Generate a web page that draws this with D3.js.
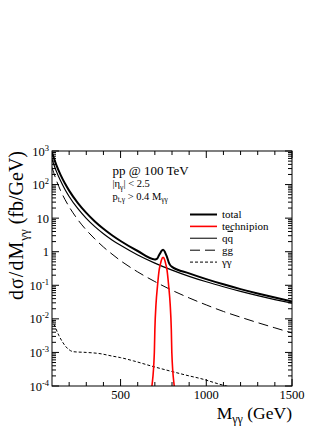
<!DOCTYPE html>
<html>
<head>
<meta charset="utf-8">
<script src="https://cdn.jsdelivr.net/npm/d3@7"></script>
<style>
  body { margin: 0; background: #fff; }
  svg { display: block; }
</style>
</head>
<body>
<script>
// background spectra (fb/GeV)
const masses = [100, 125, 150, 175, 200, 250, 300, 350, 400, 450, 500, 600, 700, 800, 900, 1000, 1100, 1200, 1300, 1400, 1500];
const qqValues = [576, 252, 129, 72.5, 44.2, 19.4, 9.87, 5.6, 3.45, 2.25, 1.55, 0.80, 0.458, 0.284, 0.185, 0.127, 0.0904, 0.0658, 0.0492, 0.0376, 0.0293];
const ggValues = [324, 136, 66, 36.5, 21.8, 9.1, 4.43, 2.4, 1.38, 0.85, 0.54, 0.25, 0.129, 0.071, 0.042, 0.026, 0.0166, 0.0112, 0.0077, 0.0054, 0.0038];

const gamgamMasses = [100, 120, 140, 160, 180, 200, 225, 300, 380, 450, 500, 575, 690, 800, 900, 960, 1100, 1200, 1300, 1400, 1500];
const gamgamValues = [0.0095, 0.0055, 0.0032, 0.0021, 0.0015, 0.0012, 0.00105, 0.001, 0.00092, 0.00078, 0.0007, 0.00056, 0.00038, 0.00027, 0.0002, 0.00017, 0.000105, 0.00008, 0.00006, 0.000045, 0.000035];

const totalMasses = [100, 125, 150, 175, 200, 250, 300, 350, 400, 450, 500, 600, 700, 707, 715, 725, 732, 738, 748, 758, 764, 771, 781, 789, 796, 800, 900, 1000, 1100, 1200, 1300, 1400, 1500];
const totalValues = [900, 388, 195, 109, 66, 28.5, 14.3, 8.0, 4.83, 3.1, 2.09, 1.05, 0.587, 0.594, 0.633, 0.80, 0.916, 1.04, 1.14, 0.995, 0.842, 0.693, 0.48, 0.403, 0.367, 0.355, 0.227, 0.153, 0.107, 0.077, 0.0569, 0.043, 0.0331];

const techniMasses = [670, 683, 697, 700, 707, 715, 725, 732, 738, 748, 758, 764, 771, 781, 789, 796, 799, 813, 826];
const techniValues = [0.00004, 0.0001, 0.001, 0.0047, 0.029, 0.091, 0.285, 0.42, 0.56, 0.68, 0.56, 0.42, 0.285, 0.091, 0.029, 0.0047, 0.001, 0.0001, 0.00004];

const xTicks = [500, 1000, 1500];
const xMinorTicks = [200, 300, 400, 600, 700, 800, 900, 1100, 1200, 1300, 1400];
const yTicks = [1e3, 1e2, 1e1, 1, 1e-1, 1e-2, 1e-3, 1e-4];
const yTickLabels = [["10", "3"], ["10", "2"], ["10", ""], ["1", ""], ["10", "-1"], ["10", "-2"], ["10", "-3"], ["10", "-4"]];

const legendNames = ["total", "technipion", "qq", "gg", "γγ"];

const W = 332, H = 430;
const plot = { left: 52, right: 292, top: 151, bottom: 386 };
const serif = "'Liberation Serif', 'Times New Roman', serif";

const svg = d3.select("body").append("svg")
    .attr("width", W)
    .attr("height", H)
    .style("font-family", serif);

const x = d3.scaleLinear().domain([100, 1500]).range([plot.left, plot.right]);
const y = d3.scaleLog().domain([1e-4, 1e3]).range([plot.bottom, plot.top]);

svg.append("clipPath").attr("id", "clip")
    .append("rect")
    .attr("x", plot.left).attr("y", plot.top)
    .attr("width", plot.right - plot.left).attr("height", plot.bottom - plot.top);

const zip = (ms, vs) => ms.map((m, i) => ({ m: m, v: vs[i] }));

const line = d3.line()
    .x(d => x(d.m))
    .y(d => y(d.v))
    .curve(d3.curveMonotoneX);

const curves = [
    { data: zip(masses, ggValues), color: "#000", width: 1, dash: "10,5" },
    { data: zip(gamgamMasses, gamgamValues), color: "#000", width: 1, dash: "3,2" },
    { data: zip(masses, qqValues), color: "#000", width: 1.2, dash: null },
    { data: zip(techniMasses, techniValues), color: "#ff0000", width: 1.6, dash: null },
    { data: zip(totalMasses, totalValues), color: "#000", width: 2, dash: null }
];

const g = svg.append("g").attr("clip-path", "url(#clip)");
curves.forEach(c => {
    g.append("path")
        .attr("d", line(c.data))
        .attr("fill", "none")
        .attr("stroke", c.color)
        .attr("stroke-width", c.width)
        .attr("stroke-dasharray", c.dash);
});

// frame
svg.append("rect")
    .attr("x", plot.left).attr("y", plot.top)
    .attr("width", plot.right - plot.left).attr("height", plot.bottom - plot.top)
    .attr("fill", "none").attr("stroke", "#000").attr("stroke-width", 1);

// ticks, drawn inward on all four sides
const ticks = svg.append("g").attr("stroke", "#000").attr("stroke-width", 1);
const tickLen = 7, minorLen = 4;

xTicks.concat(xMinorTicks).forEach(t => {
    const len = xTicks.includes(t) ? tickLen : minorLen;
    ticks.append("line").attr("x1", x(t)).attr("x2", x(t)).attr("y1", plot.bottom).attr("y2", plot.bottom - len);
    ticks.append("line").attr("x1", x(t)).attr("x2", x(t)).attr("y1", plot.top).attr("y2", plot.top + len);
});

const yMinor = [];
for (let e = -4; e < 3; e++) {
    for (let k = 2; k <= 9; k++) yMinor.push(k * Math.pow(10, e));
}
yTicks.forEach(t => {
    ticks.append("line").attr("x1", plot.left).attr("x2", plot.left + tickLen).attr("y1", y(t)).attr("y2", y(t));
    ticks.append("line").attr("x1", plot.right).attr("x2", plot.right - tickLen).attr("y1", y(t)).attr("y2", y(t));
});
yMinor.forEach(t => {
    ticks.append("line").attr("x1", plot.left).attr("x2", plot.left + minorLen).attr("y1", y(t)).attr("y2", y(t));
    ticks.append("line").attr("x1", plot.right).attr("x2", plot.right - minorLen).attr("y1", y(t)).attr("y2", y(t));
});

// tick labels
xTicks.forEach(t => {
    svg.append("text")
        .attr("x", x(t)).attr("y", 399)
        .attr("text-anchor", "middle")
        .style("font-size", "12.5px")
        .text(t);
});

yTicks.forEach((t, i) => {
    const txt = svg.append("text")
        .attr("x", 49).attr("y", y(t) + 4.5)
        .attr("text-anchor", "end")
        .style("font-size", "12.5px");
    txt.append("tspan").text(yTickLabels[i][0]);
    if (yTickLabels[i][1] !== "") {
        txt.append("tspan").attr("dy", -5).style("font-size", "8.5px").text(yTickLabels[i][1]);
    }
});

// axis titles
const xt = svg.append("text")
    .attr("x", plot.right).attr("y", 419)
    .attr("text-anchor", "end")
    .style("font-size", "17.5px");
xt.append("tspan").text("M");
xt.append("tspan").attr("dy", 4).style("font-size", "12px").text("γγ");
xt.append("tspan").attr("dy", -4).text(" (GeV)");

const yt = svg.append("text")
    .attr("transform", `translate(23,${plot.top}) rotate(-90)`)
    .attr("text-anchor", "end")
    .style("font-size", "20px");
yt.append("tspan").style("letter-spacing", "1px").text("dσ/dM");
yt.append("tspan").attr("dy", 4.5).style("font-size", "13px").text("γγ");
yt.append("tspan").attr("dy", -4.5).text(" (fb/GeV)");

// annotation
svg.append("text")
    .attr("x", 112.5).attr("y", 175)
    .style("font-size", "13px")
    .text("pp @ 100 TeV");

const eta = svg.append("text")
    .attr("x", 112.5).attr("y", 187)
    .style("font-size", "10.5px");
eta.append("tspan").text("|η");
eta.append("tspan").attr("dy", 2.5).style("font-size", "7.5px").text("γ");
eta.append("tspan").attr("dy", -2.5).text("| < 2.5");

const pt = svg.append("text")
    .attr("x", 112.5).attr("y", 199.5)
    .style("font-size", "10.5px");
pt.append("tspan").text("p");
pt.append("tspan").attr("dy", 2.5).style("font-size", "7.5px").text("t,γ");
pt.append("tspan").attr("dy", -2.5).text(" > 0.4 M");
pt.append("tspan").attr("dy", 2.5).style("font-size", "7.5px").text("γγ");

// legend
const legendStyles = [
    { color: "#000", width: 2, dash: null },
    { color: "#ff0000", width: 1.6, dash: null },
    { color: "#444", width: 1.4, dash: null },
    { color: "#000", width: 1, dash: "10,5" },
    { color: "#000", width: 1, dash: "3,2" }
];
const legend = svg.append("g");
legendNames.forEach((name, i) => {
    const ly = 214.5 + i * 11.9;
    legend.append("line")
        .attr("x1", 190).attr("x2", 217)
        .attr("y1", ly).attr("y2", ly)
        .attr("stroke", legendStyles[i].color)
        .attr("stroke-width", legendStyles[i].width)
        .attr("stroke-dasharray", legendStyles[i].dash);
    const t = legend.append("text")
        .attr("x", 222).attr("y", ly + 3.5)
        .style("font-size", "11px");
    if (name === "qq") {
        t.append("tspan").text("q");
        t.append("tspan").style("text-decoration", "overline").text("q");
    } else {
        t.text(name);
    }
});
</script>
</body>
</html>
